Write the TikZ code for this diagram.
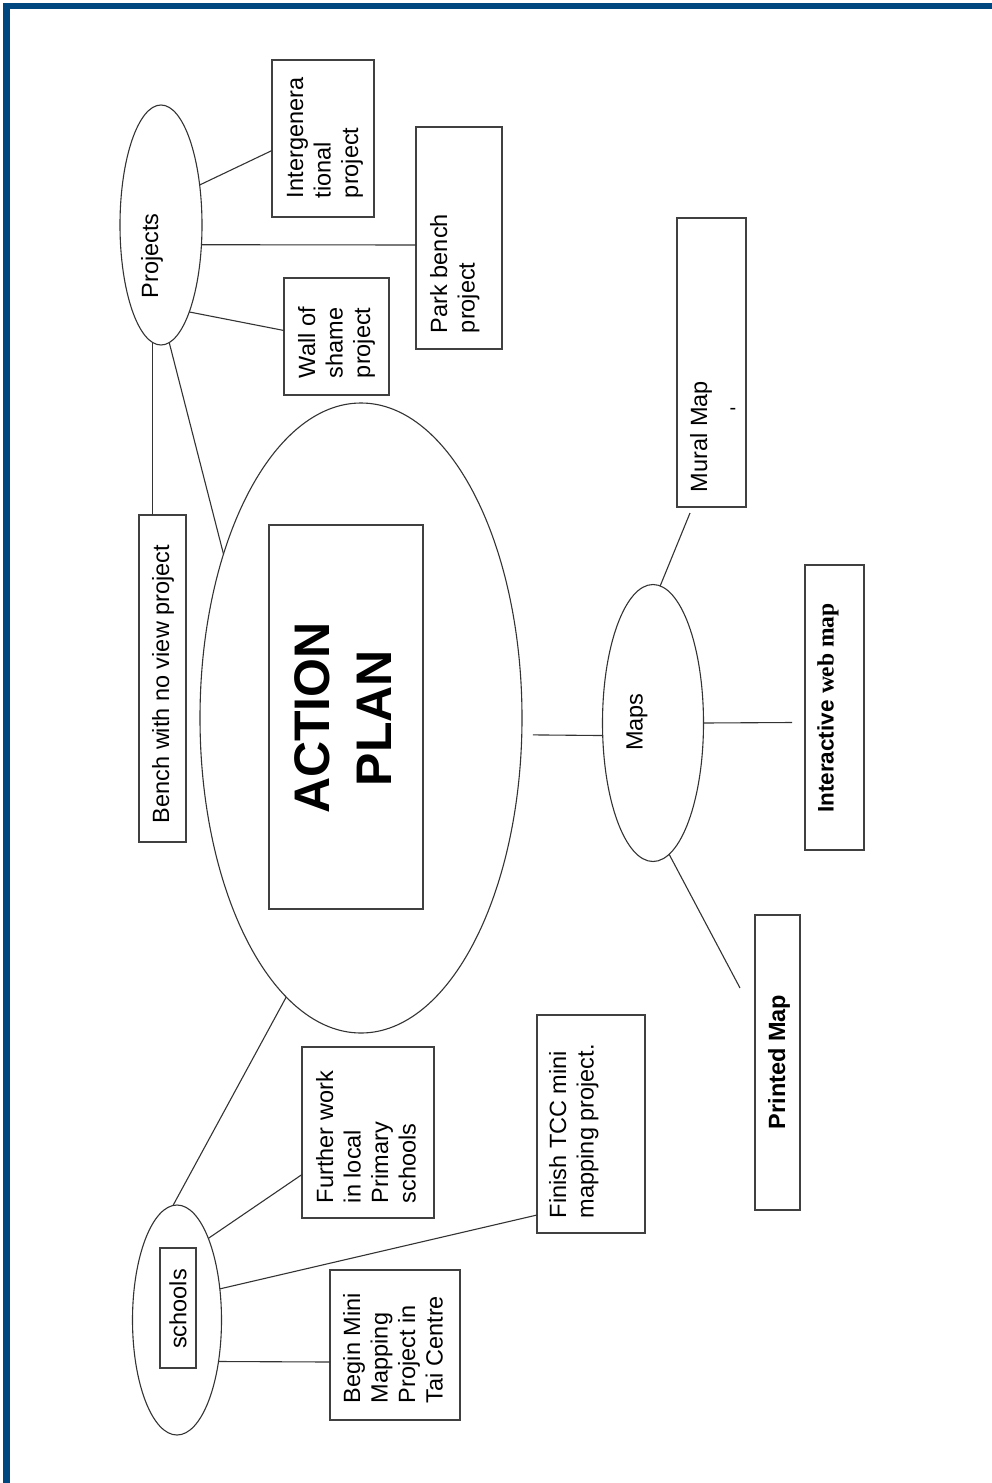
\documentclass[tikz,border=0pt]{standalone}
\usepackage{fontspec}
\setmainfont{Liberation Sans}
\newfontfamily\serifbold{Liberation Serif}
\usetikzlibrary{shapes.geometric,calc}
\definecolor{frameblue}{RGB}{0,70,127}
\begin{document}
\begin{tikzpicture}[x=1pt,y=-1pt,
  every node/.style={inner sep=0pt, outer sep=0pt},
  box/.style={draw=black!75, line width=1.2pt, rectangle},
  oval/.style={draw=black!80, line width=1.1pt, ellipse},
  conn/.style={draw=black!80, line width=1.1pt},
  txt/.style={rotate=90, align=left, font=\fontsize{23.5}{27.5}\selectfont},
  ctxt/.style={rotate=90, align=center, font=\fontsize{23.5}{27.5}\selectfont},
]
\useasboundingbox (0,0) rectangle (992,1483);
\fill[white] (0,0) rectangle (992,1483);
\draw[frameblue, line width=6.5pt, line join=miter] (6.5,1483) -- (6.5,6) -- (992,6);

% ellipses
\node[oval, minimum width=82pt, minimum height=240pt] (proj) at (161,225) {};
\node[oval, minimum width=322pt, minimum height=630pt] (big) at (361,718) {};
\node[oval, minimum width=101pt, minimum height=277pt] (maps) at (653,723) {};
\node[oval, minimum width=89pt, minimum height=230pt] (sch) at (177,1320) {};

% boxes
\node[box, minimum width=102pt, minimum height=157pt] (ig) at (323,138.5) {};
\node[box, minimum width=86pt, minimum height=222pt] (pb) at (459,238) {};
\node[box, minimum width=105pt, minimum height=117pt] (ws) at (336.5,336.5) {};
\node[box, minimum width=47pt, minimum height=327pt] (bench) at (162.5,678.5) {};
\node[box, minimum width=154pt, minimum height=384pt] (ap) at (346,717) {};
\node[box, minimum width=69pt, minimum height=289pt] (mural) at (711.5,362.5) {};
\node[box, minimum width=59pt, minimum height=285pt] (iw) at (834.5,707.5) {};
\node[box, minimum width=45pt, minimum height=295pt] (pm) at (777.5,1062.5) {};
\node[box, minimum width=36pt, minimum height=120pt] (schbox) at (178,1308) {};
\node[box, minimum width=132pt, minimum height=171pt] (fw) at (368,1132.5) {};
\node[box, minimum width=108pt, minimum height=218pt] (tcc) at (591,1124) {};
\node[box, minimum width=130pt, minimum height=150pt] (bm) at (395,1345) {};

% texts
\node[ctxt] (tproj) at (152,256) {Projects};
\node[txt, anchor=north west] (tig) at (287,198) {Intergenera\\tional\\project};
\node[txt, anchor=north west] (tpb) at (430,333) {Park bench\\project};
\node[txt, anchor=north west] (tws) at (298,378) {Wall of\\shame\\project};
\node[ctxt] (tbench) at (163,684) {Bench with no view project};
\node[rotate=90, align=center, font=\fontsize{50}{62}\selectfont\bfseries] (tap) at (343,718) {ACTION\\PLAN};
\node[ctxt] (tmaps) at (637,722) {Maps};
\node[txt, anchor=north west] (tmural) at (690,492) {Mural Map};
\node[font=\fontsize{20}{20}\selectfont] (tdash) at (733,411) {-};
\node[rotate=90, font=\fontsize{22.5}{26}\selectfont\bfseries] (tiw) at (828,708) {Interactive {\serifbold\fontsize{23.5}{26}\selectfont web map}};
\node[rotate=90, font=\fontsize{23.5}{26}\selectfont\bfseries] (tpm) at (779,1062) {Printed Map};
\node[ctxt] (tsch) at (178,1309) {schools};
\node[txt, anchor=north west] (tfw) at (316,1203) {Further work\\in local\\Primary\\schools};
\node[txt, anchor=north west] (ttcc) at (549,1218) {Finish TCC mini\\mapping project.};
\node[txt, anchor=north west] (tbm) at (343,1403) {Begin Mini\\Mapping\\Project in\\Tai Centre};

% connector free ends
\coordinate (muralend) at ([shift={(13pt,-6pt)}]mural.south west);
\coordinate (iwend) at ([shift={(-13pt,-15pt)}]iw.west);
\coordinate (pmend) at ([shift={(-15pt,74.5pt)}]pm.west);
\coordinate (bigend) at ([xshift=11pt]big.-6);

% connectors
\draw[conn] (proj.46) -- ([yshift=-12pt]ig.west);
\draw[conn] (proj.-26) -- ([yshift=-7pt]pb.west);
\draw[conn] (proj.-72) -- ([yshift=6pt]ws.west);
\draw[conn] (proj.-94) -- (proj.-94 |- bench.north);
\draw[conn] (proj.-86) -- (big.130);
\draw[conn] (bigend) -- (maps.-166);
\draw[conn] (big.-105) -- (sch.92);
\draw[conn] (sch.69) -- ([yshift=-42pt]fw.west);
\draw[conn] (sch.36) -- ([yshift=-91pt]tcc.west);
\draw[conn] (sch.-45) -- ([yshift=-17pt]bm.west);
\draw[conn] (maps.87) -- (muralend);
\draw[conn] (maps.0) -- (iwend);
\draw[conn] (maps.-83) -- (pmend);
\end{tikzpicture}
\end{document}
